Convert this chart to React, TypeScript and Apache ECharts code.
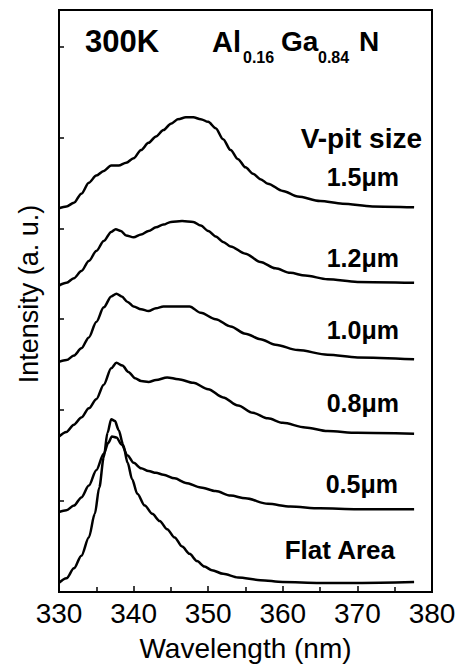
import React, { useEffect, useRef } from "react";
import * as echarts from "echarts";

// Wavelength (nm) / intensity (a.u., offset) for each V-pit size
const wl15 = [330, 331, 332, 333, 334, 335, 336, 337, 338, 339, 340, 341, 342, 343, 344, 345, 346, 347, 348, 349, 350, 351, 352, 353, 354, 355, 356, 357, 358, 360, 362, 365, 368, 372, 377.6];
const in15 = [4.22, 4.24, 4.28, 4.38, 4.50, 4.58, 4.63, 4.69, 4.69, 4.72, 4.77, 4.86, 4.94, 5.01, 5.08, 5.15, 5.20, 5.22, 5.22, 5.20, 5.17, 5.10, 4.98, 4.86, 4.76, 4.67, 4.60, 4.54, 4.49, 4.41, 4.35, 4.30, 4.27, 4.24, 4.23];

const wl12 = [330, 331, 332, 333, 334, 335, 336, 337, 337.6, 338.3, 339, 340, 341, 342, 343, 344, 345, 346.5, 348, 349, 350, 351, 352, 353, 355, 357, 359, 361, 363, 366, 370, 377.6];
const in12 = [3.37, 3.40, 3.45, 3.53, 3.64, 3.75, 3.86, 3.96, 3.99, 3.97, 3.92, 3.90, 3.93, 3.97, 4.01, 4.04, 4.07, 4.08, 4.07, 4.03, 3.97, 3.91, 3.85, 3.80, 3.72, 3.63, 3.56, 3.51, 3.48, 3.44, 3.41, 3.40];

const wl10 = [330, 331, 332, 333, 334, 335, 336, 337, 337.7, 338.4, 339.2, 340, 341, 342, 343, 344, 346, 347.5, 349, 351, 353, 355, 357, 359, 362, 366, 370, 377.6];
const in10 = [2.53, 2.55, 2.60, 2.68, 2.80, 2.97, 3.13, 3.25, 3.28, 3.25, 3.19, 3.14, 3.11, 3.09, 3.12, 3.14, 3.14, 3.14, 3.07, 3.00, 2.92, 2.84, 2.78, 2.72, 2.66, 2.61, 2.58, 2.56];

const wl08 = [330, 331, 332, 333, 334, 335, 336, 337, 337.7, 338.5, 339.3, 340.2, 341, 342, 343, 344.5, 346, 348, 350, 352, 354, 356, 358, 360, 363, 366, 370, 377.6];
const in08 = [1.71, 1.76, 1.84, 1.92, 2.02, 2.12, 2.28, 2.46, 2.52, 2.49, 2.42, 2.35, 2.32, 2.31, 2.33, 2.36, 2.34, 2.30, 2.23, 2.14, 2.05, 1.97, 1.91, 1.86, 1.81, 1.77, 1.75, 1.74];

const wl05 = [330, 331, 332, 333, 334, 335, 336, 336.6, 337.1, 337.7, 338.4, 339.2, 340, 341, 342, 343, 344, 345.5, 347, 349, 351, 353, 355, 358, 361, 365, 370, 377.6];
const in05 = [0.88, 0.90, 0.95, 1.04, 1.17, 1.34, 1.52, 1.64, 1.71, 1.70, 1.62, 1.50, 1.42, 1.36, 1.33, 1.31, 1.29, 1.25, 1.20, 1.15, 1.11, 1.06, 1.03, 0.97, 0.94, 0.92, 0.91, 0.91];

const wlFlat = [330, 331, 332, 333, 334, 334.8, 335.4, 336, 336.5, 337, 337.5, 338, 338.6, 339.2, 339.8, 340.5, 341.5, 342.5, 343.5, 344.5, 345.5, 346.5, 347.5, 348.5, 349.5, 350.5, 352, 354, 357, 360, 365, 370, 377.6];
const inFlat = [0.10, 0.15, 0.26, 0.40, 0.60, 0.86, 1.15, 1.48, 1.75, 1.90, 1.88, 1.78, 1.62, 1.42, 1.24, 1.08, 0.95, 0.86, 0.78, 0.69, 0.60, 0.50, 0.42, 0.34, 0.28, 0.24, 0.20, 0.16, 0.13, 0.11, 0.10, 0.10, 0.11];

const seriesNames = ["1.5μm", "1.2μm", "1.0μm", "0.8μm", "0.5μm", "Flat Area"];
const xTicks = { min: 330, max: 380, interval: 10 };

const FONT = "'Liberation Sans', Arial, Helvetica, sans-serif";

function zip(xs: number[], ys: number[]) {
  return xs.map((x, i) => [x, ys[i]]);
}

export default function App() {
  const ref = useRef<HTMLDivElement>(null);
  useEffect(() => {
    if (!ref.current) return;
    const chart = echarts.init(ref.current, undefined, { renderer: "svg" });
    const sets = [
      [wl15, in15],
      [wl12, in12],
      [wl10, in10],
      [wl08, in08],
      [wl05, in05],
      [wlFlat, inFlat],
    ];
    const txt = (t: string, x: number, y: number, size: number, align = "left", weight = "bold", rotation = 0) => ({
      type: "text",
      x,
      y,
      rotation,
      silent: true,
      style: {
        text: t,
        fill: "#000",
        font: `${weight} ${size}px ${FONT}`,
        textAlign: align,
        align,
        textVerticalAlign: "middle",
        verticalAlign: "middle",
      },
    });
    chart.setOption({
      animation: false,
      backgroundColor: "#fff",
      grid: {
        left: 59,
        top: 10,
        right: 28,
        bottom: 76,
        show: true,
        borderColor: "#000",
        borderWidth: 2,
      },
      xAxis: {
        type: "value",
        min: xTicks.min,
        max: xTicks.max,
        interval: xTicks.interval,
        name: "Wavelength (nm)",
        nameLocation: "middle",
        nameGap: 42,
        nameTextStyle: { fontFamily: FONT, fontSize: 28, color: "#000" },
        axisLine: { show: true, lineStyle: { color: "#000", width: 2 } },
        axisTick: { show: true, inside: true, length: 6, lineStyle: { color: "#000", width: 1.5 } },
        minorTick: { show: true, splitNumber: 2, length: 5, lineStyle: { color: "#000", width: 1.5 } },
        axisLabel: { fontFamily: FONT, fontSize: 28, color: "#000", margin: 7 },
        splitLine: { show: false },
      },
      yAxis: {
        type: "value",
        min: 0,
        max: 6.4,
        interval: 1,
        axisLine: { show: true, lineStyle: { color: "#000", width: 2 } },
        axisTick: { show: true, inside: true, length: 5, lineStyle: { color: "#000", width: 1.5 } },
        axisLabel: { show: false },
        splitLine: { show: false },
      },
      series: sets.map(([xs, ys], i) => ({
        name: seriesNames[i],
        type: "line",
        data: zip(xs, ys),
        smooth: 0.3,
        smoothMonotone: "x",
        showSymbol: false,
        lineStyle: { color: "#000", width: 2.5 },
        z: 3,
      })),
      graphic: [
        txt("Intensity (a. u.)", 29, 294, 27, "center", "normal", Math.PI / 2),
        txt("300K", 85, 41, 31),
        txt("Al", 212, 41.5, 29),
        txt("0.16", 243, 57.5, 16),
        txt("Ga", 281, 41.5, 28),
        txt("0.84", 318, 57.5, 16),
        txt("N", 359, 41.5, 28),
        txt("V-pit size", 422, 138, 28, "right"),
        txt(seriesNames[0], 399, 177, 25, "right"),
        txt(seriesNames[1], 399, 258, 25, "right"),
        txt(seriesNames[2], 399, 330, 25, "right"),
        txt(seriesNames[3], 399, 403, 25, "right"),
        txt(seriesNames[4], 398, 483.5, 25, "right"),
        txt(seriesNames[5], 395, 550, 26, "right"),
      ],
    });
    return () => chart.dispose();
  }, []);
  return <div ref={ref} style={{ width: 460, height: 668, position: "absolute", left: 0, top: 0 }} />;
}
